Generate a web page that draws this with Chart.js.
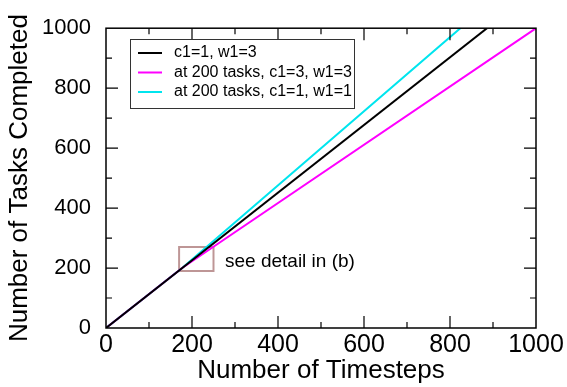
<!DOCTYPE html>
<html lang="en">
<head>
  <meta charset="UTF-8">
  <title>Tasks completed vs timesteps</title>
  <script src="https://cdn.jsdelivr.net/npm/chart.js"></script>
  <style>
    html, body { margin: 0; padding: 0; background: #fff; }
    #wrap { width: 567px; height: 387px; }
  </style>
</head>
<body>
  <div id="wrap"><canvas id="grafico" width="567" height="387"></canvas></div>

  <script>
    // data
    const labels = ['c1=1, w1=3', 'at 200 tasks, c1=3, w1=3', 'at 200 tasks, c1=1, w1=1'];
    const colors = ['#000000', '#ff00ff', '#00e5ee'];
    const baseX = [0, 886];
    const baseY = [0, 1000];
    const slowX = [0, 177, 1000];
    const slowY = [0, 200, 1000];
    const fastX = [0, 177, 824];
    const fastY = [0, 200, 1000];
    // rectangle marking the zoomed region
    const boxX = [170, 250, 250, 170, 170];
    const boxY = [190, 190, 270, 270, 190];
    const xTicks = [0, 200, 400, 600, 800, 1000];
    const yTicks = [0, 200, 400, 600, 800, 1000];

    const FONT = '"Liberation Sans", Arial, sans-serif';
    const pts = (xs, ys) => xs.map((x, i) => ({ x: x, y: ys[i] }));

    // frame, inward ticks, legend and note
    const decor = {
      id: 'decor',
      afterDraw(chart) {
        const ctx = chart.ctx;
        const a = chart.chartArea;
        const sx = chart.scales.x, sy = chart.scales.y;
        ctx.save();
        ctx.strokeStyle = '#000';
        ctx.lineWidth = 1.5;
        ctx.strokeRect(a.left, a.top, a.right - a.left, a.bottom - a.top);
        ctx.lineWidth = 1.2;
        ctx.beginPath();
        for (let v = 100; v < 1000; v += 100) {
          const len = v % 200 === 0 ? 12 : 6;
          const px = sx.getPixelForValue(v);
          ctx.moveTo(px, a.bottom); ctx.lineTo(px, a.bottom - len);
          ctx.moveTo(px, a.top); ctx.lineTo(px, a.top + len);
          const py = sy.getPixelForValue(v);
          ctx.moveTo(a.left, py); ctx.lineTo(a.left + len, py);
          ctx.moveTo(a.right, py); ctx.lineTo(a.right - len, py);
        }
        ctx.stroke();

        // legend
        ctx.fillStyle = '#fff';
        ctx.fillRect(130, 39, 224, 69);
        ctx.strokeStyle = '#333';
        ctx.lineWidth = 1;
        ctx.strokeRect(130.5, 39.5, 224, 69);
        ctx.font = '16px ' + FONT;
        ctx.textBaseline = 'middle';
        ctx.textAlign = 'left';
        labels.forEach((t, i) => {
          const y = 53 + i * 19.5;
          ctx.strokeStyle = colors[i];
          ctx.lineWidth = 2;
          ctx.beginPath();
          ctx.moveTo(138, y); ctx.lineTo(162, y);
          ctx.stroke();
          ctx.fillStyle = '#000';
          ctx.fillText(t, 174, y);
        });

        // note next to the box
        ctx.font = '19px ' + FONT;
        ctx.fillStyle = '#000';
        ctx.fillText('see detail in (b)', 225, 262);
        ctx.restore();
      }
    };

    const ctx = document.getElementById('grafico').getContext('2d');
    new Chart(ctx, {
      type: 'scatter',
      data: {
        datasets: [
          { label: labels[0], data: pts(baseX, baseY), borderColor: colors[0] },
          { label: labels[1], data: pts(slowX, slowY), borderColor: colors[1] },
          { label: labels[2], data: pts(fastX, fastY), borderColor: colors[2] },
          { label: 'box', data: pts(boxX, boxY), borderColor: 'rgb(190,150,150)' }
        ].map(d => Object.assign(d, {
          showLine: true, fill: false, pointRadius: 0, borderWidth: 2, tension: 0
        }))
      },
      options: {
        responsive: false,
        animation: false,
        events: [],
        layout: { padding: { top: 22, right: 31, left: 0, bottom: 0 } },
        plugins: { legend: { display: false }, tooltip: { enabled: false } },
        scales: {
          x: {
            type: 'linear', min: 0, max: 1000,
            afterBuildTicks: s => { s.ticks = xTicks.map(v => ({ value: v })); },
            afterFit: s => { s.height = 59; },
            grid: { display: false, drawTicks: false },
            border: { display: false },
            ticks: { color: '#000', padding: 2, font: { family: FONT, size: 25 },
                     callback: v => String(v) },
            title: { display: true, text: 'Number of Timesteps', color: '#000',
                     padding: { top: 0, bottom: 1 }, font: { family: FONT, size: 26 } }
          },
          y: {
            type: 'linear', min: 0, max: 1000,
            afterBuildTicks: s => { s.ticks = yTicks.map(v => ({ value: v })); },
            afterFit: s => { s.width = 106; },
            grid: { display: false, drawTicks: false },
            border: { display: false },
            ticks: { color: '#000', padding: 15, font: { family: FONT, size: 22 },
                     callback: v => String(v) },
            title: { display: true, text: 'Number of Tasks Completed', color: '#000',
                     padding: { top: 4, bottom: 0 }, font: { family: FONT, size: 26 } }
          }
        }
      },
      plugins: [decor]
    });
  </script>
</body>
</html>
